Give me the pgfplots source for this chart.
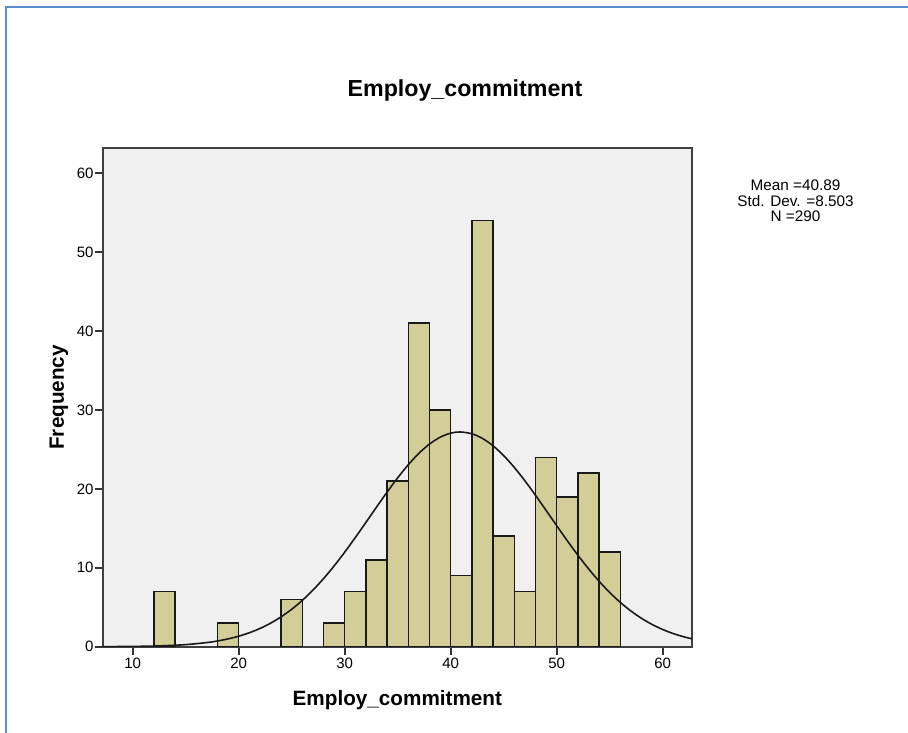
\documentclass[border=0pt]{standalone}
\usepackage{pgfplots}
\pgfplotsset{compat=1.18}
\usepackage{fontspec}
\setmainfont{Liberation Sans}
\definecolor{barfill}{RGB}{211,206,151}
\definecolor{plotbg}{RGB}{240,240,240}
\definecolor{frameblue}{RGB}{91,139,206}
\begin{document}
\begin{tikzpicture}
\path[use as bounding box] (0pt,0pt) rectangle (908pt,-733pt);
\draw[frameblue, line width=2pt] (6pt,-733pt) -- (6pt,-7pt) -- (908pt,-7pt);
\node[font=\bfseries\fontsize{23.2}{27}\selectfont] at (465pt,-91pt) {Employ\_commitment};
\node[font=\fontsize{15.3}{15.7}\selectfont, align=center] at (795.5pt,-201pt) {Mean =40.89\\Std. Dev. =8.503\\N =290};
\begin{axis}[
  at={(102.7pt,-646.7pt)}, anchor=south west,
  scale only axis, width=589.3pt, height=498.7pt,
  xmin=7.17, xmax=62.76, ymin=0, ymax=63.2,
  xtick={10,20,...,60}, ytick={0,10,...,60},
  tick align=outside, major tick length=8pt,
  tick style={black!80, line width=1.8pt},
  xtick pos=bottom, ytick pos=left,
  axis line style={black!75, line width=1.8pt},
  axis background/.style={fill=plotbg},
  /pgf/number format/assume math mode=true,
  tick label style={font=\fontsize{15}{17}\selectfont},
  yticklabel style={inner sep=1pt},
  xticklabel style={inner sep=3pt},
  xlabel={Employ\_commitment}, ylabel={Frequency},
  label style={font=\bfseries\fontsize{20.7}{24}\selectfont},
  xlabel style={at={(axis description cs:0.5,-0.108)}, anchor=center},
  ylabel style={at={(axis description cs:-0.0742,0.5)}, anchor=center},
  clip=true,
]
\addplot[ybar, bar width=2, bar shift=0pt, fill=barfill, draw=black!90, line width=1.5pt] coordinates {
(13,7) (19,3) (25,6) (29,3) (31,7) (33,11) (35,21) (37,41) (39,30) (41,9)
(43,54) (45,14) (47,7) (49,24) (51,19) (53,22) (55,12)
};
\addplot[black!90, line width=1.6pt, smooth, mark=none] coordinates {
(7,0.0097) (9,0.024) (11,0.0565) (13,0.1256) (15,0.264) (17,0.525) (18,0.726) (19,0.990)
(20,1.331) (21,1.765) (22,2.307) (23,2.976) (24,3.785) (25,4.747) (26,5.873) (27,7.166)
(28,8.626) (29,10.237) (30,11.985) (31,13.836) (32,15.755) (33,17.693) (34,19.597)
(35,21.409) (36,23.065) (37,24.510) (38,25.686) (39,26.549) (40,27.065) (40.89,27.213)
(42,26.982) (43,26.388) (44,25.452) (45,24.213) (46,22.717) (47,21.020) (48,19.184)
(49,17.267) (50,15.330) (51,13.421) (52,11.590) (53,9.870) (54,8.290) (55,6.868)
(56,5.611) (57,4.521) (58,3.594) (59,2.817) (60,2.178) (61,1.661) (62,1.249) (63,0.926)
};
\end{axis}
\end{tikzpicture}
\end{document}
